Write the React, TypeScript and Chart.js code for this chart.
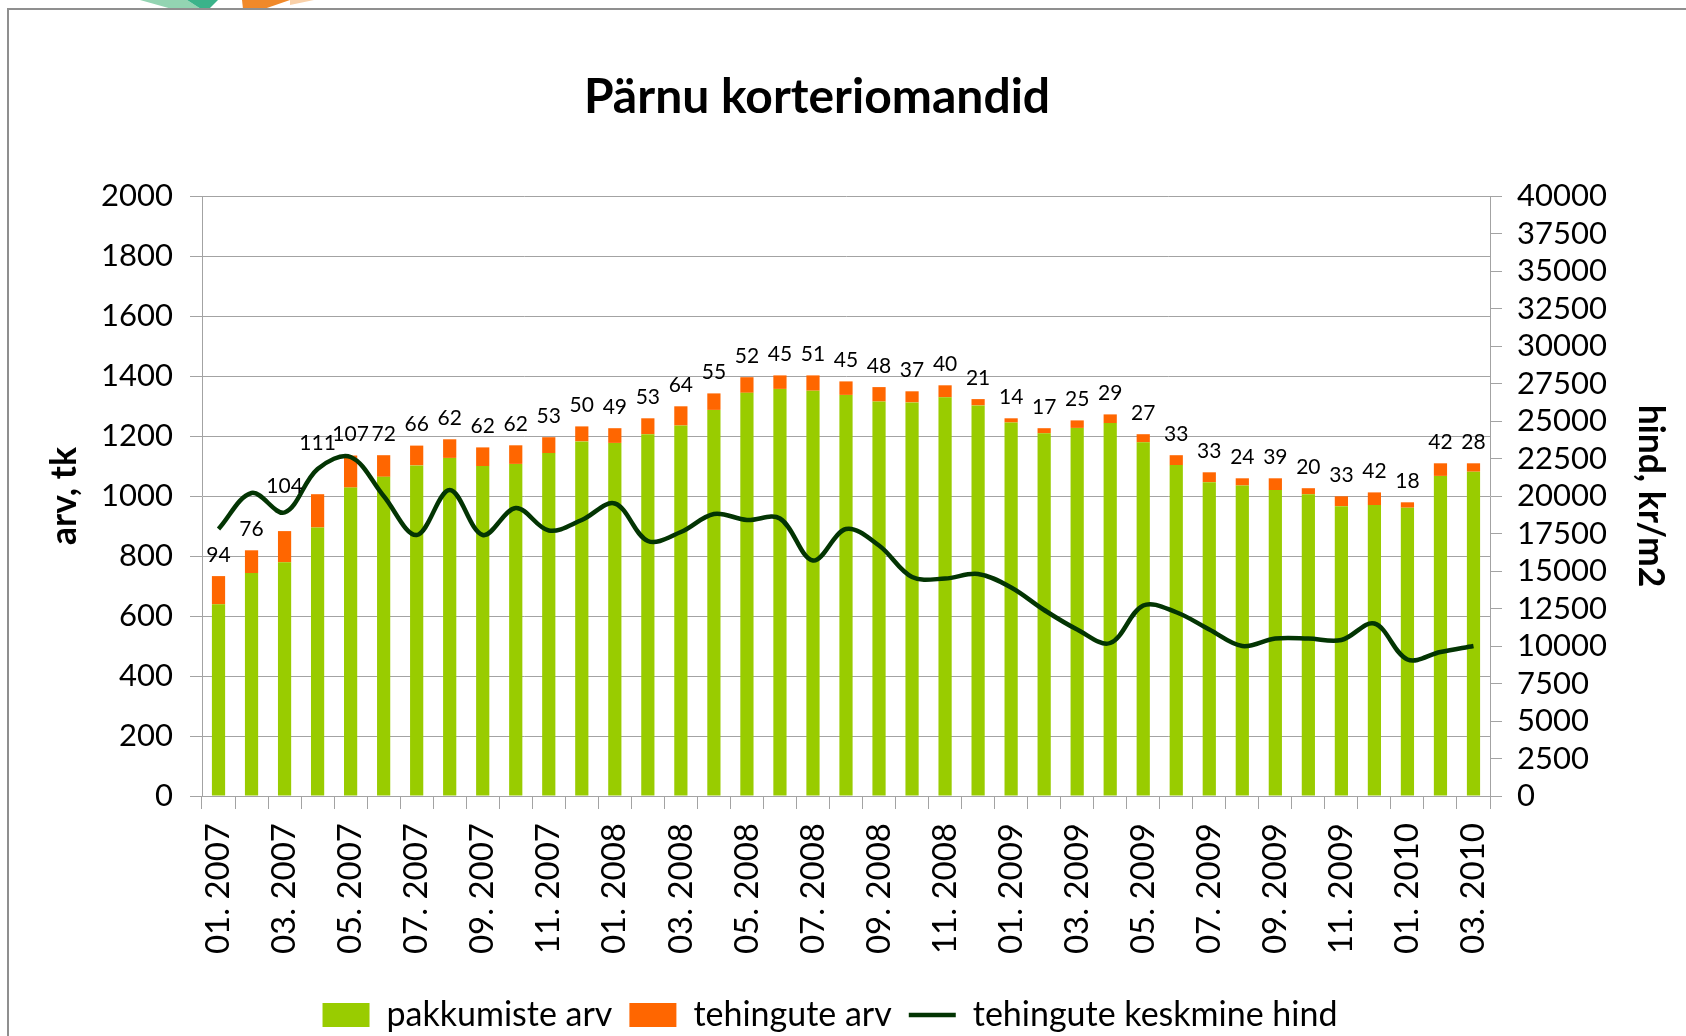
import React, { useEffect, useRef } from 'react';
import { Chart, registerables } from 'chart.js';

Chart.register(...registerables);

const months = [
  '01. 2007', '02. 2007', '03. 2007', '04. 2007', '05. 2007', '06. 2007',
  '07. 2007', '08. 2007', '09. 2007', '10. 2007', '11. 2007', '12. 2007',
  '01. 2008', '02. 2008', '03. 2008', '04. 2008', '05. 2008', '06. 2008',
  '07. 2008', '08. 2008', '09. 2008', '10. 2008', '11. 2008', '12. 2008',
  '01. 2009', '02. 2009', '03. 2009', '04. 2009', '05. 2009', '06. 2009',
  '07. 2009', '08. 2009', '09. 2009', '10. 2009', '11. 2009', '12. 2009',
  '01. 2010', '02. 2010', '03. 2010',
];

const offers = [
  639, 743, 779, 895, 1028, 1064, 1102, 1127, 1100, 1107, 1143, 1182,
  1177, 1206, 1235, 1287, 1344, 1357, 1351, 1337, 1315, 1312, 1329, 1302,
  1245, 1209, 1227, 1243, 1179, 1103, 1046, 1035, 1020, 1006, 966, 970,
  961, 1067, 1081,
];

const deals = [
  94, 76, 104, 111, 107, 72, 66, 62, 62, 62, 53, 50,
  49, 53, 64, 55, 52, 45, 51, 45, 48, 37, 40, 21,
  14, 17, 25, 29, 27, 33, 33, 24, 39, 20, 33, 42,
  18, 42, 28,
];

const avgPrice = [
  17800, 20200, 18900, 21800, 22600, 20000, 17400, 20400, 17400, 19200, 17700, 18400,
  19500, 17000, 17600, 18800, 18400, 18500, 15700, 17800, 16700, 14600, 14500, 14800,
  13900, 12400, 11100, 10200, 12700, 12250, 11100, 10000, 10500, 10500, 10400, 11500,
  9100, 9600, 10000,
];

const seriesNames = ['pakkumiste arv', 'tehingute arv', 'tehingute keskmine hind'];
const chartTitle = 'Pärnu korteriomandid';
const leftTitle = 'arv, tk';
const rightTitle = 'hind, kr/m2';

const GREEN = '#99cc00';
const ORANGE = '#ff6600';
const LINE = '#033503';
const GRID = '#a3a3a3';
const FONT = 'Lato';

const framePlugin = {
  id: 'frameAndLogo',
  beforeDraw(chart: any) {
    const { ctx, width, height } = chart;
    ctx.save();
    ctx.fillStyle = '#ffffff';
    ctx.fillRect(0, 0, width, height);
    const poly = (pts: number[][], color: string) => {
      ctx.beginPath();
      ctx.moveTo(pts[0][0], pts[0][1]);
      for (let i = 1; i < pts.length; i++) ctx.lineTo(pts[i][0], pts[i][1]);
      ctx.closePath();
      ctx.fillStyle = color;
      ctx.fill();
    };
    poly([[140, 0], [187, 0], [201, 9], [172, 9]], '#93d4b2');
    poly([[187, 0], [218, 0], [209, 9], [201, 9]], '#3bb38a');
    poly([[242, 0], [290, 0], [264, 9], [243, 9]], '#f0892a');
    poly([[290, 0], [314, 0], [290, 5]], '#f9d0a8');
    ctx.strokeStyle = '#8f8f8f';
    ctx.lineWidth = 2;
    ctx.beginPath();
    ctx.moveTo(8, height);
    ctx.lineTo(8, 9);
    ctx.lineTo(width, 9);
    ctx.stroke();
    // chart title
    ctx.fillStyle = '#000';
    ctx.font = `bold 48px ${FONT}`;
    ctx.textAlign = 'center';
    ctx.textBaseline = 'middle';
    ctx.fillText(chartTitle, 817, 98);
    ctx.restore();
  },
};

const labelPlugin = {
  id: 'dealLabels',
  afterDatasetsDraw(chart: any) {
    const barMeta = chart.getDatasetMeta(1);
    const lineMeta = chart.getDatasetMeta(2);
    const ctx = chart.ctx;
    ctx.save();
    ctx.font = `21px ${FONT}`;
    ctx.fillStyle = '#000';
    ctx.textAlign = 'center';
    ctx.textBaseline = 'middle';
    barMeta.data.forEach((el: any, i: number) => {
      let y = el.y - 21;
      const pt = lineMeta.data[i];
      if (pt && Math.abs(y - pt.y) < 22) y = pt.y - 26;
      ctx.fillText(String(deals[i]), el.x, y);
    });
    ctx.restore();
  },
};

export default function App() {
  const ref = useRef<HTMLCanvasElement | null>(null);

  useEffect(() => {
    if (!ref.current) return;
    const chart = new Chart(ref.current, {
      type: 'bar',
      data: {
        labels: months,
        datasets: [
          {
            type: 'bar',
            label: seriesNames[0],
            data: offers,
            backgroundColor: GREEN,
            borderWidth: 0,
            yAxisID: 'y',
            categoryPercentage: 1,
            barPercentage: 0.4,
            pointStyle: 'rect',
          },
          {
            type: 'bar',
            label: seriesNames[1],
            data: deals,
            backgroundColor: ORANGE,
            borderWidth: 0,
            yAxisID: 'y',
            categoryPercentage: 1,
            barPercentage: 0.4,
            pointStyle: 'rect',
          },
          {
            type: 'line',
            label: seriesNames[2],
            data: avgPrice,
            borderColor: LINE,
            backgroundColor: LINE,
            borderWidth: 4.5,
            pointRadius: 0,
            tension: 0.35,
            yAxisID: 'y1',
            order: -1,
            pointStyle: 'line',
          },
        ] as any,
      },
      options: {
        responsive: false,
        animation: false,
        devicePixelRatio: 1,
        events: [],
        layout: { padding: { left: 8, right: 34, top: 196, bottom: -6 } },
        plugins: {
          title: { display: false },
          legend: {
            position: 'bottom',
            labels: {
              usePointStyle: true,
              pointStyleWidth: 47,
              boxHeight: 24,
              padding: 17,
              color: '#000',
              font: { family: FONT, size: 34 },
              sort: (a: any, b: any) => a.datasetIndex - b.datasetIndex,
            },
          },
          tooltip: { enabled: false },
        },
        scales: {
          x: {
            stacked: true,
            offset: true,
            grid: { display: true, drawOnChartArea: false, tickLength: 13, color: GRID, offset: true },
            border: { color: GRID },
            ticks: {
              autoSkip: false,
              maxRotation: 90,
              minRotation: 90,
              padding: 14,
              color: '#000',
              font: { family: FONT, size: 33 },
              callback: (_v: any, i: number) => (i % 2 === 0 ? months[i] : ''),
            },
            afterFit: (s: any) => { s.height = 185; },
          },
          y: {
            stacked: true,
            position: 'left',
            min: 0,
            max: 2000,
            ticks: {
              stepSize: 200,
              padding: 17,
              color: '#000',
              font: { family: FONT, size: 31 },
              callback: (v: any) => String(v),
            },
            grid: { color: GRID, tickLength: 12 },
            border: { color: GRID },
            title: {
              display: true,
              text: leftTitle,
              color: '#000',
              font: { family: FONT, size: 35.5, weight: 'bold', lineHeight: 1.2 },
              padding: { top: 35.7, bottom: 0 },
            },
            afterFit: (s: any) => { s.width = 194; },
          },
          y1: {
            position: 'right',
            min: 0,
            max: 40000,
            ticks: {
              stepSize: 2500,
              autoSkip: false,
              padding: 15,
              color: '#000',
              font: { family: FONT, size: 31 },
              callback: (v: any) => String(v),
            },
            grid: { drawOnChartArea: false, color: GRID, tickLength: 12 },
            border: { color: GRID },
            title: {
              display: true,
              text: rightTitle,
              color: '#000',
              font: { family: FONT, size: 35.5, weight: 'bold', lineHeight: 1.2 },
              padding: { top: -19.3, bottom: 0 },
            },
            afterFit: (s: any) => { s.width = 162; },
          },
        },
      } as any,
      plugins: [framePlugin, labelPlugin],
    });
    let alive = true;
    if ((document as any).fonts && (document as any).fonts.ready) {
      (document as any).fonts.ready.then(() => { if (alive) chart.update(); });
    }
    return () => { alive = false; chart.destroy(); };
  }, []);

  return (
    <div style={{ position: 'absolute', left: 0, top: 0, width: 1686, height: 1036 }}>
      <canvas ref={ref} width={1686} height={1036} style={{ display: 'block', width: 1686, height: 1036 }} />
    </div>
  );
}
